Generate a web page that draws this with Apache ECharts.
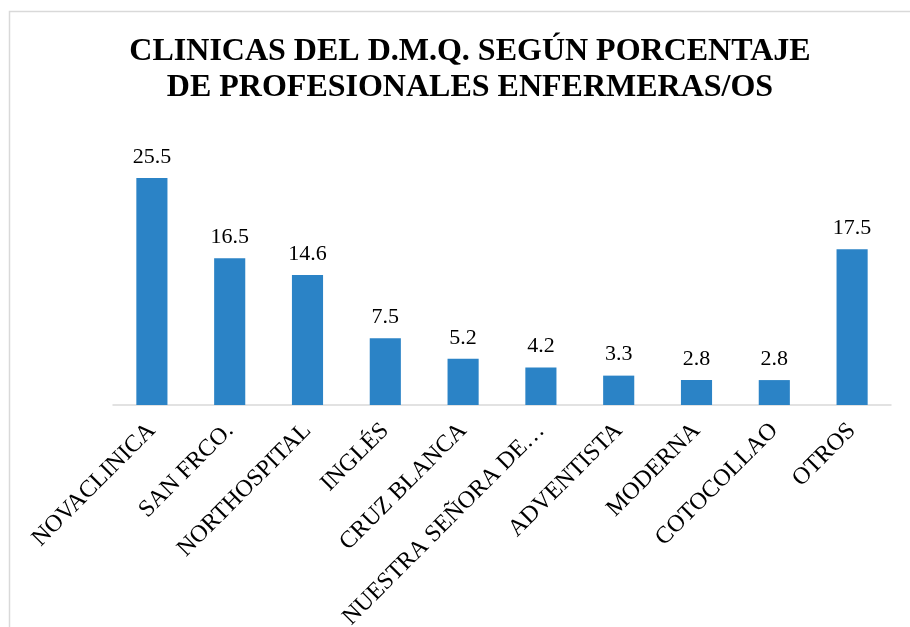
<!DOCTYPE html>
<html>
<head>
<meta charset="utf-8">
<script src="https://cdn.jsdelivr.net/npm/echarts@6/dist/echarts.min.js"></script>
<style>
  html, body { margin:0; padding:0; background:#fff; }
  #chart { width:910px; height:627px; }
</style>
</head>
<body>
<div id="chart"></div>
<script>
/* categories and values */
const clinicas = [
  'NOVACLINICA', 'SAN FRCO.', 'NORTHOSPITAL', 'INGLÉS', 'CRUZ BLANCA',
  'NUESTRA SEÑORA DE…', 'ADVENTISTA', 'MODERNA', 'COTOCOLLAO', 'OTROS'
]
const porcentaje = [25.5, 16.5, 14.6, 7.5, 5.2, 4.2, 3.3, 2.8, 2.8, 17.5]

const serif = 'Liberation Serif'

const chart = echarts.init(document.getElementById('chart'))
chart.setOption({
  animation: false,
  title: {
    text: 'CLINICAS DEL D.M.Q. SEGÚN PORCENTAJE\nDE PROFESIONALES ENFERMERAS/OS',
    left: 465,
    textAlign: 'center',
    top: 29,
    textStyle: { fontFamily: serif, fontSize: 32, fontWeight: 'bold', color: '#000', lineHeight: 36 }
  },
  graphic: [{
    type: 'rect',
    shape: { x: 9.5, y: 11.5, width: 1000, height: 1000 },
    style: { fill: 'none', stroke: '#d9d9d9', lineWidth: 1.5 },
    silent: true
  }],
  grid: { left: 113, right: 19, top: 138, bottom: 222, containLabel: false, outerBoundsMode: 'none' },
  xAxis: {
    type: 'category',
    data: clinicas,
    axisLine: { lineStyle: { color: '#d9d9d9', width: 1.5 } },
    axisTick: { show: false },
    axisLabel: {
      interval: 0, rotate: 45, margin: 22,
      fontFamily: serif, fontSize: 24, color: '#000'
    }
  },
  yAxis: {
    type: 'value',
    min: 0, max: 30,
    show: false
  },
  series: [{
    type: 'bar',
    data: porcentaje,
    barWidth: '40%',
    itemStyle: { color: '#2B83C6' },
    label: {
      show: true, position: 'top', distance: 10,
      fontFamily: serif, fontSize: 22, color: '#000'
    }
  }]
})
</script>
</body>
</html>
